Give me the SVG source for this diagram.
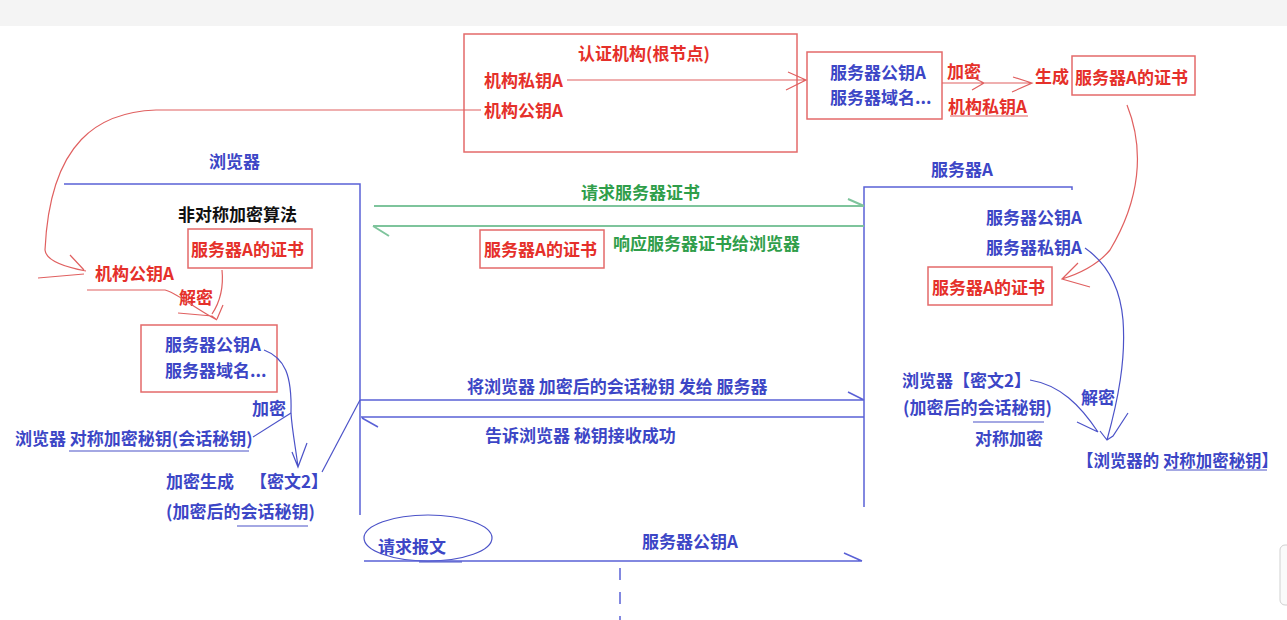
<svg xmlns="http://www.w3.org/2000/svg" width="1287" height="620" viewBox="0 0 1287 620">
<style>
.t{font-family:"Noto Sans CJK SC","Noto Sans",sans-serif;font-size:17px;font-weight:700;dominant-baseline:central}
.b{fill:#3c46c6}
.r{fill:#e5302a}
.g{fill:#2f9e4a}
.k{fill:#111}
.rbox{fill:none;stroke:#e46a6a;stroke-width:1.5}
.bl{stroke:#5a61d6;stroke-width:1.5;fill:none}
.gl{stroke:#7ec49c;stroke-width:2;fill:none}
.rl{stroke:#e06060;stroke-width:1.2;fill:none}
.bc{stroke:#4b52c8;stroke-width:1.2;fill:none}
</style>
<rect x="0" y="0" width="1287" height="620" fill="#ffffff"/>
<rect x="0" y="0" width="1287" height="26" fill="#f4f4f4"/>
<rect x="1280" y="545" width="12" height="60" rx="5" fill="#fafafa" stroke="#d0d0d0"/>

<g id="ca">
<rect class="rbox" x="464" y="34" width="333" height="118"/>
<text class="t r" x="578" y="52">认证机构(根节点)</text>
<text class="t r" x="484" y="79">机构私钥A</text>
<text class="t r" x="484" y="109">机构公钥A</text>
</g>

<g id="server-info-top">
<rect class="rbox" x="807" y="52" width="135" height="67"/>
<text class="t b" x="830" y="71">服务器公钥A</text>
<text class="t b" x="830" y="96">服务器域名...</text>
</g>

<g id="encrypt-top">
<text class="t r" x="947" y="70">加密</text>
<text class="t r" x="948" y="105">机构私钥A</text>
<text class="t r" x="1035" y="75">生成</text>
</g>

<g id="cert-top">
<rect class="rbox" x="1072" y="56" width="123" height="39"/>
<text class="t r" x="1075" y="76">服务器A的证书</text>
</g>

<g id="browser">
<path class="bl" d="M64 184 H360 V515"/>
<text class="t b" x="209" y="160">浏览器</text>
<text class="t k" x="178" y="213">非对称加密算法</text>
<text class="t r" x="95" y="272">机构公钥A</text>
<text class="t r" x="179" y="296">解密</text>
</g>

<g id="browser-cert">
<rect class="rbox" x="188" y="229" width="124" height="39"/>
<text class="t r" x="191" y="248">服务器A的证书</text>
</g>

<g id="browser-info">
<rect class="rbox" x="141" y="325" width="136" height="67"/>
<text class="t b" x="165" y="343">服务器公钥A</text>
<text class="t b" x="165" y="369">服务器域名...</text>
</g>

<g id="browser-key">
<text class="t b" x="252" y="407">加密</text>
<text class="t b" x="15" y="437">浏览器 对称加密秘钥(会话秘钥)</text>
<text class="t b" x="166" y="480">加密生成</text>
<text class="t b" x="250" y="480">【密文2】</text>
<text class="t b" x="166" y="510">(加密后的会话秘钥)</text>
</g>

<g id="middle-cert">
<rect class="rbox" x="480" y="230" width="124" height="38"/>
<text class="t r" x="484" y="248">服务器A的证书</text>
</g>

<g id="request">
<ellipse class="bc" cx="428" cy="538" rx="64" ry="23"/>
<text class="t b" x="378" y="545">请求报文</text>
</g>

<g id="server">
<path class="bl" d="M1072 190 V187 H864 V507"/>
<text class="t b" x="931" y="168">服务器A</text>
<text class="t b" x="986" y="216">服务器公钥A</text>
<text class="t b" x="986" y="246">服务器私钥A</text>
</g>

<g id="server-cert">
<rect class="rbox" x="928" y="267" width="124" height="38"/>
<text class="t r" x="932" y="286">服务器A的证书</text>
</g>

<g id="server-key">
<text class="t b" x="902" y="379">浏览器【密文2】</text>
<text class="t b" x="903" y="406">(加密后的会话秘钥)</text>
<text class="t b" x="975" y="437">对称加密</text>
<text class="t b" x="1081" y="396">解密</text>
<text class="t b" x="1077" y="459" textLength="201" lengthAdjust="spacingAndGlyphs">【浏览器的 对称加密秘钥】</text>
</g>

<g id="connectors">
<text class="t g" x="581" y="191">请求服务器证书</text>
<path class="gl" d="M374 206 H864 M848 199 L864 206"/>
<text class="t g" x="613" y="242">响应服务器证书给浏览器</text>
<path class="gl" d="M864 226 H373 M373 226 L389 236"/>
<text class="t b" x="467" y="385">将浏览器 加密后的会话秘钥 发给 服务器</text>
<path class="bl" d="M360 400 H864 M848 392 L864 400"/>
<text class="t b" x="485" y="434">告诉浏览器 秘钥接收成功</text>
<path class="bl" d="M864 417 H361 M362 418 L378 427"/>
<text class="t b" x="642" y="540">服务器公钥A</text>
<path class="bl" d="M364 561 H862 M844 553 L862 561"/>
<path class="bc" stroke-width="2.5" d="M419 562 H462"/>
<path class="bl" stroke-dasharray="12 12" d="M620 568 V620"/>

<path class="rl" d="M567 80 H806 M788 72 L806 80 L786 90"/>
<path class="rl" d="M481 110 H156 C100 112 50 140 45 250 C46 262 70 268 86 271 M70 255 L84 270 M38 278 L84 274"/>
<path class="rl" d="M87 290 H165 C175 292 190 305 217 320 M178 313 L212 316 L217 320"/>
<path class="rl" d="M222 270 C224 290 218 305 212 314 M223 305 L217 319"/>
<path class="rl" d="M942 83 H1032 M970 76 L984 83 L972 90 M1013 77 L1032 83 L1012 92"/>
<path class="rl" d="M950 116 H1028"/>
<path class="rl" d="M1127 105 C1145 150 1140 200 1110 250 C1095 268 1075 275 1062 279 M1078 263 L1062 279 L1090 287"/>

<path class="bc" d="M264 350 C285 358 292 375 291 413 C292 430 296 450 298 467 M292 452 L298 467 L307 443"/>
<path class="bc" d="M253 437 L291 413"/>
<path class="bc" d="M322 472 L360 400"/>
<path class="bc" d="M69 451 H249 M237 526 H308"/>
<path class="bc" d="M1085 248 C1105 262 1120 285 1123 320 C1126 360 1118 400 1107 440 M1100 431 L1107 440 L1113 436 L1128 413"/>
<path class="bc" d="M1030 380 C1060 385 1080 405 1098 432 M1077 422 L1098 432"/>
<path class="bc" d="M973 422 H1044 M1166 470 H1267"/>
</g>
</svg>
